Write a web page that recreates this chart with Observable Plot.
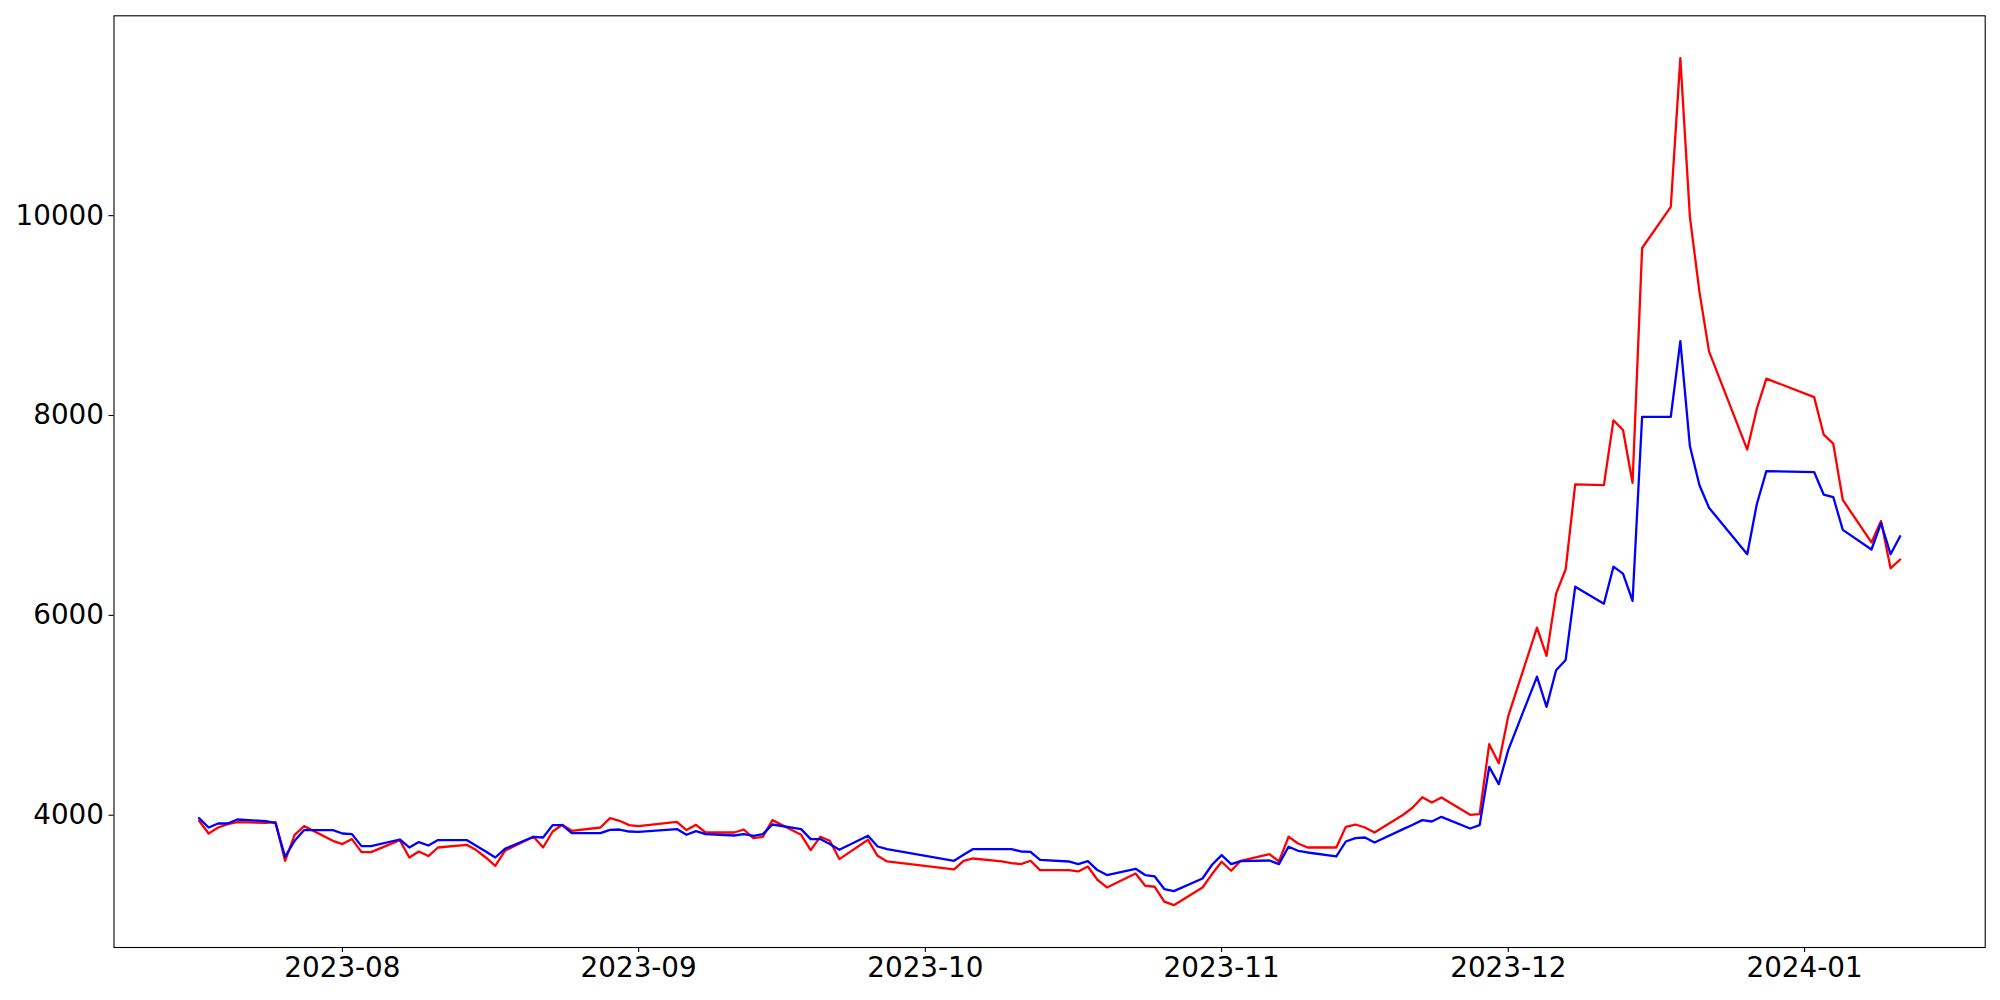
<!DOCTYPE html>
<html>
<head>
<meta charset="utf-8">
<script src="https://cdn.jsdelivr.net/npm/d3@7"></script>
<script src="https://cdn.jsdelivr.net/npm/@observablehq/plot@0.6"></script>
<style>
  html, body { margin: 0; padding: 0; background: #ffffff; }
  #chart { width: 2000px; height: 1000px; }
</style>
</head>
<body>
<div id="chart"></div>
<script>
const dates = [
  "2023-07-17","2023-07-18","2023-07-19","2023-07-20","2023-07-21",
  "2023-07-24","2023-07-25","2023-07-26","2023-07-27","2023-07-28",
  "2023-07-31","2023-08-01","2023-08-02","2023-08-03","2023-08-04",
  "2023-08-07","2023-08-08","2023-08-09","2023-08-10","2023-08-11",
  "2023-08-14","2023-08-15","2023-08-16","2023-08-17","2023-08-18",
  "2023-08-21","2023-08-22","2023-08-23","2023-08-24","2023-08-25",
  "2023-08-28","2023-08-29","2023-08-30","2023-08-31","2023-09-01",
  "2023-09-05","2023-09-06","2023-09-07","2023-09-08",
  "2023-09-11","2023-09-12","2023-09-13","2023-09-14","2023-09-15",
  "2023-09-18","2023-09-19","2023-09-20","2023-09-21","2023-09-22",
  "2023-09-25","2023-09-26","2023-09-27",
  "2023-10-04","2023-10-05","2023-10-06",
  "2023-10-09","2023-10-10","2023-10-11","2023-10-12","2023-10-13",
  "2023-10-16","2023-10-17","2023-10-18","2023-10-19","2023-10-20",
  "2023-10-23","2023-10-24","2023-10-25","2023-10-26","2023-10-27",
  "2023-10-30","2023-10-31","2023-11-01","2023-11-02","2023-11-03",
  "2023-11-06","2023-11-07","2023-11-08","2023-11-09","2023-11-10",
  "2023-11-13","2023-11-14","2023-11-15","2023-11-16","2023-11-17",
  "2023-11-20","2023-11-21","2023-11-22","2023-11-23","2023-11-24",
  "2023-11-27","2023-11-28","2023-11-29","2023-11-30","2023-12-01",
  "2023-12-04","2023-12-05","2023-12-06","2023-12-07","2023-12-08",
  "2023-12-11","2023-12-12","2023-12-13","2023-12-14","2023-12-15",
  "2023-12-18","2023-12-19","2023-12-20","2023-12-21","2023-12-22",
  "2023-12-26","2023-12-27","2023-12-28",
  "2024-01-02","2024-01-03","2024-01-04","2024-01-05",
  "2024-01-08","2024-01-09","2024-01-10","2024-01-11"
];

const redValues = [
  3944,3817,3877,3911,3931,
  3924,3931,3544,3804,3891,
  3744,3711,3761,3631,3631,
  3751,3577,3637,3591,3677,
  3704,3651,3577,3494,3644,
  3784,3677,3837,3904,3844,
  3877,3971,3944,3901,3891,
  3934,3851,3904,3827,
  3827,3857,3771,3784,3951,
  3804,3651,3784,3744,3561,
  3754,3594,3537,
  3457,3544,3567,
  3537,3521,3511,3544,3451,
  3451,3437,3487,3354,3277,
  3417,3294,3284,3135,3100,
  3277,3411,3534,3444,3544,
  3611,3537,3784,3717,3677,
  3677,3884,3907,3877,3827,
  4005,4077,4180,4127,4177,
  4004,4011,4711,4521,4994,
  5877,5594,6217,6461,7311,
  7304,7952,7855,7327,9676,
  10087,11576,9987,9237,8641,
  7659,8066,8369,
  8184,7809,7719,7155,
  6730,6944,6470,6559
];

const blueValues = [
  3971,3877,3917,3917,3957,
  3941,3921,3584,3744,3851,
  3851,3817,3811,3691,3691,
  3757,3677,3731,3697,3751,
  3751,3694,3637,3577,3664,
  3784,3777,3901,3901,3821,
  3821,3854,3857,3837,3834,
  3861,3804,3841,3811,
  3797,3811,3794,3811,3907,
  3861,3761,3761,3711,3654,
  3794,3687,3661,
  3544,3604,3661,
  3661,3661,3637,3634,3554,
  3537,3511,3541,3451,3401,
  3464,3401,3387,3261,3240,
  3367,3504,3601,3511,3541,
  3547,3511,3684,3644,3627,
  3587,3737,3771,3777,3727,
  3861,3904,3951,3937,3984,
  3867,3901,4484,4311,4654,
  5387,5084,5451,5554,6287,
  6117,6487,6417,6144,7987,
  7987,8744,7694,7302,7077,
  6612,7112,7444,
  7434,7209,7184,6855,
  6659,6923,6612,6791
];

const yTicks = [4000, 6000, 8000, 10000];
const xTicks = ["2023-08-01","2023-09-01","2023-10-01","2023-11-01","2023-12-01","2024-01-01"];

const rows = dates.map((d, i) => ({date: new Date(d + "T00:00:00Z"), red: redValues[i], blue: blueValues[i]}));

const tMin = d3.min(rows, r => r.date), tMax = d3.max(rows, r => r.date);
const tPad = (tMax - tMin) * 0.05;
const allV = redValues.concat(blueValues);
const vMin = d3.min(allV), vMax = d3.max(allV);
const vPad = (vMax - vMin) * 0.05;

const chart = Plot.plot({
  width: 2000,
  height: 1000,
  marginLeft: 113.5,
  marginRight: 15.3,
  marginTop: 15.3,
  marginBottom: 53,
  style: {fontFamily: "'DejaVu Sans', sans-serif", fontSize: "27.8px", color: "black", background: "white", overflow: "visible"},
  x: {type: "utc", domain: [new Date(+tMin - tPad), new Date(+tMax + tPad)]},
  y: {domain: [vMin - vPad, vMax + vPad]},
  marks: [
    Plot.axisY({ticks: yTicks, tickSize: 5, tickPadding: 5, tickFormat: d3.format("d"), label: null, strokeWidth: 1.1}),
    Plot.axisX({ticks: xTicks.map(s => new Date(s + "T00:00:00Z")), tickSize: 5, tickPadding: 5, tickFormat: d3.utcFormat("%Y-%m"), label: null, strokeWidth: 1.1}),
    Plot.line(rows, {x: "date", y: "red", stroke: "#ff0000", strokeWidth: 2.3}),
    Plot.line(rows, {x: "date", y: "blue", stroke: "#0000ff", strokeWidth: 2.3}),
    Plot.frame({stroke: "black", strokeWidth: 1.1})
  ]
});
document.getElementById("chart").appendChild(chart);
</script>
</body>
</html>
